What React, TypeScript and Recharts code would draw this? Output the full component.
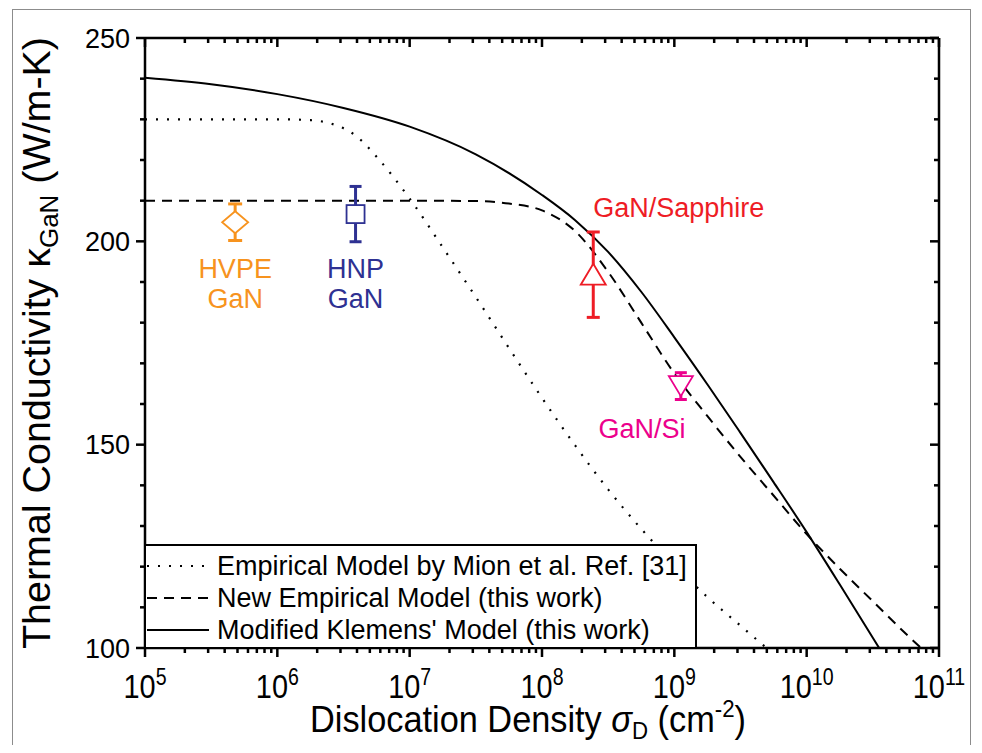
import React from 'react';
import { ComposedChart, Line, Scatter, XAxis, YAxis, ErrorBar, Legend, Label } from 'recharts';

// ---------- data ----------
const mionDensity = [1e5, 1e6, 1.78e6, 2.51e6, 3.16e6, 3.98e6, 5.62e6, 1e7, 1.78e7, 3.16e7, 5.62e7, 1e8, 1.78e8, 3.16e8, 5.62e8, 1e9, 1.78e9, 3.16e9, 5.62e9];
const mionK = [230, 230, 229.8, 229, 227.8, 225.8, 220.8, 210.5, 198.5, 186.3, 173.8, 161.5, 149.8, 139, 129.3, 120.5, 112.5, 105.5, 98.5];

const newEmpDensity = [1e5, 1e6, 1e7, 3.16e7, 5.62e7, 1e8, 1.78e8, 3.16e8, 5.62e8, 1e9, 1.78e9, 3.16e9, 5.62e9, 1e10, 1.78e10, 3.16e10, 5.62e10, 1e11];
const newEmpK = [210, 210, 210, 209.9, 209.3, 207.6, 202.5, 192.5, 180, 167.5, 157, 147, 137.5, 128, 119.5, 111.5, 103.5, 96];

const klemensDensity = [1e5, 3.16e5, 1e6, 3.16e6, 1e7, 3.16e7, 1e8, 1.78e8, 3.16e8, 5.62e8, 1e9, 1.78e9, 3.16e9, 5.62e9, 1e10, 1.78e10, 3.16e10, 5.62e10];
const klemensK = [240.2, 238.6, 236.2, 232.8, 228.2, 221.4, 211.4, 205.2, 197.4, 187.6, 176.4, 164.8, 152.9, 140.8, 128.5, 115.6, 102.5, 89.5];

const hvpePoint = [{ x: 4.8e5, y: 204.7, err: 4.5 }];
const hnpPoint = [{ x: 3.9e6, y: 206.7, err: 6.8 }];
const sapphirePoint = [{ x: 2.44e8, y: 191.8, err: 10.5 }];
const siPoint = [{ x: 1.12e9, y: 164.4, err: 3.3 }];

const hvpeLabel = [{ x: 4.8e5, y: 191 }];
const hnpLabel = [{ x: 3.9e6, y: 191 }];
const sapphireLabel = [{ x: 2.44e8, y: 206 }];
const siLabel = [{ x: 5.7e8, y: 151.6 }];

const xDomain = [1e5, 1e11];
const yDomain = [100, 250];
const xDecades = [1e5, 1e6, 1e7, 1e8, 1e9, 1e10];
const xMajorTicks = [1e5, 1e6, 1e7, 1e8, 1e9, 1e10, 1e11];
const minorMultipliers = [2, 3, 4, 5, 6, 7, 8, 9];
const yMajorTicks = [100, 150, 200, 250];
const yMinorTicks = [110, 120, 130, 140, 160, 170, 180, 190, 210, 220, 230, 240];

const seriesNames = [
  'Empirical Model by Mion et al. Ref. [31]',
  'New Empirical Model (this work)',
  "Modified Klemens' Model (this work)",
];

// ---------- derived tables ----------
const toRows = (xs: number[], ys: number[]) => xs.map((x, i) => ({ x, y: ys[i] }));
const mionData = toRows(mionDensity, mionK);
const newEmpData = toRows(newEmpDensity, newEmpK);
const klemensData = toRows(klemensDensity, klemensK);
const xMinorTicks = xDecades.flatMap((d) => minorMultipliers.map((m) => m * d));
const xAllTicks = [...xMajorTicks, ...xMinorTicks].sort((a, b) => a - b);
const yAllTicks = [...yMajorTicks, ...yMinorTicks].sort((a, b) => a - b);

// ---------- styles ----------
const W = 966;
const H = 737;
const FONT = "'Liberation Sans', Arial, Helvetica, sans-serif";
const ORANGE = '#F7931E';
const NAVY = '#2E3192';
const RED = '#EE1C25';
const MAGENTA = '#EC008C';
const AX = 2.5;
const DOT = '2 9';
const DASH = '10 7';

const isXMajor = (v: number) => xMajorTicks.some((t) => Math.abs(t - v) / t < 1e-9);

const BottomTick = (p: any) => {
  const { x, y, payload } = p;
  const major = isXMajor(payload.value);
  const exp = Math.round(Math.log10(payload.value));
  return (
    <g>
      <line x1={x} x2={x} y1={y} y2={y + (major ? 9 : 5)} stroke="#000" strokeWidth={AX} />
      {major && (
        <g transform={`translate(${x},${y + 50}) scale(0.85,1)`}>
          <text x={0} y={0} textAnchor="middle" fontFamily={FONT} fontSize={34} fill="#000">
            10<tspan dy={-13} fontSize={23}>{exp}</tspan>
          </text>
        </g>
      )}
    </g>
  );
};

const TopTick = (p: any) => {
  const { x, y, payload } = p;
  const major = isXMajor(payload.value);
  return <line x1={x} x2={x} y1={y} y2={y + (major ? 9 : 5)} stroke="#000" strokeWidth={AX} />;
};

const LeftTick = (p: any) => {
  const { x, y, payload } = p;
  const major = yMajorTicks.includes(payload.value);
  return (
    <g>
      <line x1={x} x2={x - (major ? 9 : 5)} y1={y} y2={y} stroke="#000" strokeWidth={AX} />
      {major && (
        <text x={x - 15} y={y} dy="0.36em" textAnchor="end" fontFamily={FONT} fontSize={27} fill="#000">
          {payload.value}
        </text>
      )}
    </g>
  );
};

const RightTick = (p: any) => {
  const { x, y, payload } = p;
  const major = yMajorTicks.includes(payload.value);
  return <line x1={x} x2={x - (major ? 9 : 5)} y1={y} y2={y} stroke="#000" strokeWidth={AX} />;
};

const XTitle = (p: any) => {
  const vb = p.viewBox || { x: 137, y: 640, width: 794, height: 97 };
  const cx = vb.x + vb.width / 2 - 14;
  const cy = vb.y + 84;
  return (
    <text x={cx} y={cy} textAnchor="middle" fontFamily={FONT} fontSize={37} fill="#000" textLength={436} lengthAdjust="spacingAndGlyphs">
      Dislocation Density <tspan fontStyle="italic">σ</tspan>
      <tspan fontSize={24} dy={7}>D</tspan>
      <tspan dy={-7}> (cm</tspan>
      <tspan fontSize={24} dy={-15}>-2</tspan>
      <tspan dy={15}>)</tspan>
    </text>
  );
};

const YTitle = (p: any) => {
  const vb = p.viewBox || { x: 0, y: 30, width: 137, height: 610 };
  const cy = vb.y + vb.height / 2;
  return (
    <text transform={`translate(42,${cy}) rotate(-90)`} x={0} y={0} textAnchor="middle" fontFamily={FONT} fontSize={38} fill="#000" textLength={612} lengthAdjust="spacingAndGlyphs">
      Thermal Conductivity κ<tspan fontSize={25} dy={8}>GaN</tspan>
      <tspan dy={-8}> (W/m-K)</tspan>
    </text>
  );
};

const diamondShape = (color: string) => (p: any) => {
  const { cx, cy } = p;
  return <polygon points={`${cx},${cy - 11} ${cx + 13},${cy} ${cx},${cy + 11} ${cx - 13},${cy}`} fill="#fff" stroke={color} strokeWidth={1.8} />;
};
const squareShape = (color: string) => (p: any) => {
  const { cx, cy } = p;
  return <rect x={cx - 9} y={cy - 9} width={18} height={18} fill="#fff" stroke={color} strokeWidth={1.8} />;
};
const triUpShape = (color: string) => (p: any) => {
  const { cx, cy } = p;
  return <polygon points={`${cx},${cy - 11} ${cx + 12.5},${cy + 10} ${cx - 12.5},${cy + 10}`} fill="#fff" stroke={color} strokeWidth={1.8} />;
};
const triDownShape = (color: string) => (p: any) => {
  const { cx, cy } = p;
  return <polygon points={`${cx - 12},${cy - 10} ${cx + 12},${cy - 10} ${cx},${cy + 10}`} fill="#fff" stroke={color} strokeWidth={1.8} />;
};

const textShape = (lines: string[], color: string, anchor: 'start' | 'middle' | 'end') => (p: any) => {
  const { cx, cy } = p;
  return (
    <text x={cx} y={cy} textAnchor={anchor} fontFamily={FONT} fontSize={27} fill={color}>
      {lines.map((l, i) => (
        <tspan key={i} x={cx} dy={i === 0 ? 0 : 30}>
          {l}
        </tspan>
      ))}
    </text>
  );
};

const LegendBox = (p: any) => {
  const entries = (p.payload || [])
    .filter((e: any) => e.type !== 'none' && seriesNames.includes(e.value))
    .slice()
    .sort((a: any, b: any) => seriesNames.indexOf(a.value) - seriesNames.indexOf(b.value));
  return (
    <div
      style={{
        width: 553,
        height: 105,
        boxSizing: 'border-box',
        border: `${AX}px solid #000`,
        background: '#fff',
        paddingTop: 4,
        fontFamily: FONT,
        color: '#000',
      }}
    >
      {entries.map((e: any) => (
        <div key={e.value} style={{ display: 'flex', alignItems: 'center', height: 32 }}>
          <svg width={64} height={10} style={{ display: 'block', flex: '0 0 auto' }}>
            <line x1={1} x2={63} y1={5} y2={5} stroke="#000" strokeWidth={2} strokeDasharray={e.payload && e.payload.strokeDasharray} />
          </svg>
          <span style={{ fontSize: 27, marginLeft: 7, whiteSpace: 'nowrap', lineHeight: '32px' }}>{e.value}</span>
        </div>
      ))}
    </div>
  );
};

export default function App() {
  return (
    <div style={{ position: 'relative', width: W, height: H }}>
      <ComposedChart width={W} height={H} margin={{ top: 0, right: 0, bottom: 0, left: 0 }}>
        <XAxis
          xAxisId="b"
          dataKey="x"
          type="number"
          scale="log"
          domain={xDomain}
          allowDataOverflow
          ticks={xAllTicks}
          interval={0}
          orientation="bottom"
          height={97}
          tickSize={0}
          tickMargin={0}
          tickLine={false}
          axisLine={{ stroke: '#000', strokeWidth: AX }}
          tick={BottomTick}
        >
          <Label content={XTitle} />
        </XAxis>
        <XAxis
          xAxisId="t"
          dataKey="x"
          type="number"
          scale="log"
          domain={xDomain}
          allowDataOverflow
          ticks={xAllTicks}
          interval={0}
          orientation="top"
          height={30}
          tickSize={0}
          tickMargin={0}
          tickLine={false}
          axisLine={{ stroke: '#000', strokeWidth: AX }}
          tick={TopTick}
        />
        <YAxis
          yAxisId="l"
          type="number"
          domain={yDomain}
          allowDataOverflow
          ticks={yAllTicks}
          interval={0}
          orientation="left"
          width={137}
          tickSize={0}
          tickMargin={0}
          tickLine={false}
          axisLine={{ stroke: '#000', strokeWidth: AX }}
          tick={LeftTick}
        >
          <Label content={YTitle} />
        </YAxis>
        <YAxis
          yAxisId="r"
          type="number"
          domain={yDomain}
          allowDataOverflow
          ticks={yAllTicks}
          interval={0}
          orientation="right"
          width={35}
          tickSize={0}
          tickMargin={0}
          tickLine={false}
          axisLine={{ stroke: '#000', strokeWidth: AX }}
          tick={RightTick}
        />

        <Line xAxisId="b" yAxisId="l" data={mionData} dataKey="y" name={seriesNames[0]} type="monotone" stroke="#000" strokeWidth={2.2} strokeDasharray={DOT} dot={false} activeDot={false} isAnimationActive={false} />
        <Line xAxisId="b" yAxisId="l" data={newEmpData} dataKey="y" name={seriesNames[1]} type="monotone" stroke="#000" strokeWidth={2} strokeDasharray={DASH} dot={false} activeDot={false} isAnimationActive={false} />
        <Line xAxisId="b" yAxisId="l" data={klemensData} dataKey="y" name={seriesNames[2]} type="monotone" stroke="#000" strokeWidth={2} dot={false} activeDot={false} isAnimationActive={false} />

        <Scatter xAxisId="b" yAxisId="l" data={hvpePoint} dataKey="y" legendType="none" shape={diamondShape(ORANGE)} isAnimationActive={false}>
          <ErrorBar dataKey="err" direction="y" width={7} strokeWidth={3} stroke={ORANGE} isAnimationActive={false} />
        </Scatter>
        <Scatter xAxisId="b" yAxisId="l" data={hnpPoint} dataKey="y" legendType="none" shape={squareShape(NAVY)} isAnimationActive={false}>
          <ErrorBar dataKey="err" direction="y" width={6} strokeWidth={3} stroke={NAVY} isAnimationActive={false} />
        </Scatter>
        <Scatter xAxisId="b" yAxisId="l" data={sapphirePoint} dataKey="y" legendType="none" shape={triUpShape(RED)} isAnimationActive={false}>
          <ErrorBar dataKey="err" direction="y" width={6.5} strokeWidth={3} stroke={RED} isAnimationActive={false} />
        </Scatter>
        <Scatter xAxisId="b" yAxisId="l" data={siPoint} dataKey="y" legendType="none" shape={triDownShape(MAGENTA)} isAnimationActive={false}>
          <ErrorBar dataKey="err" direction="y" width={6} strokeWidth={3} stroke={MAGENTA} isAnimationActive={false} />
        </Scatter>

        <Scatter xAxisId="b" yAxisId="l" data={hvpeLabel} dataKey="y" legendType="none" shape={textShape(['HVPE', 'GaN'], ORANGE, 'middle')} isAnimationActive={false} />
        <Scatter xAxisId="b" yAxisId="l" data={hnpLabel} dataKey="y" legendType="none" shape={textShape(['HNP', 'GaN'], NAVY, 'middle')} isAnimationActive={false} />
        <Scatter xAxisId="b" yAxisId="l" data={sapphireLabel} dataKey="y" legendType="none" shape={textShape(['GaN/Sapphire'], RED, 'start')} isAnimationActive={false} />
        <Scatter xAxisId="b" yAxisId="l" data={siLabel} dataKey="y" legendType="none" shape={textShape(['GaN/Si'], MAGENTA, 'middle')} isAnimationActive={false} />

        <Legend
          layout="vertical"
          align="center"
          verticalAlign="middle"
          content={LegendBox}
          wrapperStyle={{ left: 136, top: 536, width: 553, height: 105, margin: 0 }}
        />
      </ComposedChart>
      <div
        style={{
          position: 'absolute',
          left: 4,
          top: 1,
          width: 959,
          height: 736,
          boxSizing: 'border-box',
          borderTop: '1.5px solid #8c8c8c',
          borderLeft: '1.5px solid #8c8c8c',
          borderRight: '1.5px solid #8c8c8c',
          pointerEvents: 'none',
        }}
      />
    </div>
  );
}
